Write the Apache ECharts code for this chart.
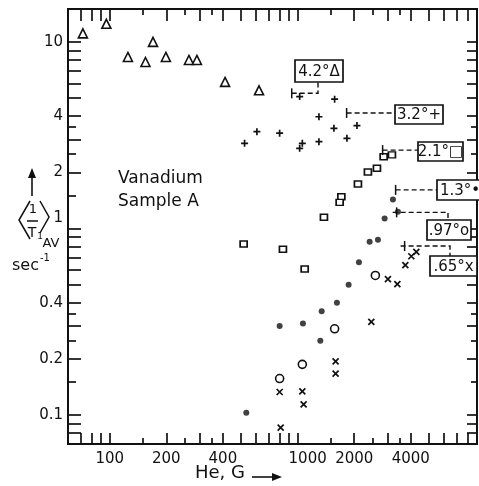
<!DOCTYPE html>
<html>
<head>
<meta charset="utf-8">
<script src="https://cdn.jsdelivr.net/npm/echarts@6/dist/echarts.min.js"></script>
<style>
html, body { margin: 0; padding: 0; background: #fff; }
#chart { width: 479px; height: 486px; }
</style>
</head>
<body>
<div id="chart"></div>
<script>
// He (G) against <1/T1>AV (sec^-1)
var tri42 = [[72, 11.1], [96, 12.5], [125, 8.3], [155, 7.8], [170, 10.0], [199, 8.3], [264, 8.0], [291, 8.0], [411, 6.1], [623, 5.5]];
var plus32 = [[522, 2.86], [607, 3.30], [802, 3.24], [1025, 2.69], [1059, 2.86], [1025, 5.09], [1298, 3.97], [1298, 2.92], [1573, 4.93], [1560, 3.44], [1829, 3.04], [2068, 3.56]];
var sq21 = [[516, 0.825], [835, 0.775], [1090, 0.606], [1380, 1.15], [1708, 1.48], [1673, 1.38], [2093, 1.73], [2365, 2.01], [2642, 2.10], [2868, 2.42], [3174, 2.48]];
var dot13 = [[3214, 1.43], [3416, 1.23], [2902, 1.13], [2415, 0.85], [2674, 0.87], [2119, 0.66], [1867, 0.50], [1618, 0.40], [1342, 0.36], [802, 0.30], [1067, 0.31], [1320, 0.25], [533, 0.103]];
var ring97 = [[2591, 0.56], [1573, 0.29], [1059, 0.187], [802, 0.157]];
var cross65 = [[3741, 0.637], [4025, 0.71], [4280, 0.75], [3022, 0.535], [3392, 0.503], [2466, 0.316], [1592, 0.194], [1592, 0.167], [1059, 0.134], [1076, 0.114], [802, 0.133], [812, 0.0857]];

// sample labels and the point each leader ends at
var tagNames = ['4.2°Δ', '3.2°+', '2.1°□', '1.3°•', '.97°o', '.65°x'];
var tagTips = [[930, 5.3], [1822, 4.16], [2832, 2.63], [3321, 1.61], [3363, 1.22], [3708, 0.805]];

var xTicks = [70, 80, 90, 100, 200, 300, 400, 500, 600, 700, 800, 900, 1000, 2000, 3000, 4000, 5000, 6000, 7000, 8000];
var xHalfTicks = [150, 250, 350, 1500, 2500, 3500];
var xLabels = [100, 200, 400, 1000, 2000, 4000];
var yTicks = [0.08, 0.09, 0.1, 0.2, 0.3, 0.4, 0.5, 0.6, 0.7, 0.8, 0.9, 1, 2, 3, 4, 5, 6, 7, 8, 9, 10];
var yHalfTicks = [0.15, 0.25, 0.35, 1.5, 2.5, 3.5];
var yLabels = [0.1, 0.2, 0.4, 1, 2, 4, 10];

// box placement for the labels (pixels)
var tagBoxes = [
    {x: 295, y: 60, w: 48, h: 22, elbow: 318, dir: 'up'},
    {x: 395, y: 105, w: 48, h: 19, dir: 'flat'},
    {x: 418, y: 142, w: 45, h: 19, dir: 'flat'},
    {x: 437, y: 180, w: 46, h: 20, dir: 'flat'},
    {x: 427, y: 220, w: 44, h: 20, elbow: 448, dir: 'down'},
    {x: 430, y: 256, w: 47, h: 20, elbow: 450, dir: 'down'}
];

var FONT = '"DejaVu Sans", sans-serif';
var INK = '#111';

function lg(list) {
    return list.map(function (v) { return Math.log10(v); });
}
function lgPts(list) {
    return list.map(function (p) { return [Math.log10(p[0]), Math.log10(p[1])]; });
}
function unlog(v) {
    return Number(Math.pow(10, v).toPrecision(3));
}

var chartDom = echarts.init(document.getElementById('chart'));

function makeAxis(pos, ticks, len, labels, extra) {
    var ax = {
        type: 'value',
        position: pos,
        axisLine: {show: true, onZero: false, lineStyle: {color: INK, width: 2}},
        axisTick: {show: true, inside: true, length: len, customValues: lg(ticks), lineStyle: {color: INK, width: 1.7}},
        splitLine: {show: false},
        axisLabel: {show: false}
    };
    if (labels) {
        ax.axisLabel = {
            show: true,
            customValues: lg(labels),
            color: INK,
            fontFamily: FONT,
            fontSize: 15,
            margin: pos === 'left' ? 5 : 8,
            formatter: function (v) {
                var n = unlog(v);
                if (n === 1000) return '{r|1000}';
                if (n === 1) return '{u|1}';
                return String(n);
            },
            rich: {
                r: {fontFamily: FONT, fontSize: 15, color: INK, padding: [0, 0, 0, 20]},
                u: {fontFamily: FONT, fontSize: 15, color: INK, padding: [0, 0, 20, 0]}
            }
        };
    }
    return Object.assign(ax, extra);
}

var xr = {min: Math.log10(60), max: Math.log10(9000)};
var yr = {min: Math.log10(0.07), max: Math.log10(15)};

function renderTag(params, api) {
    var i = params.dataIndex;
    var p = api.coord([api.value(0), api.value(1)]);
    var b = tagBoxes[i];
    var kids = [];
    var stroke = {stroke: INK, lineWidth: 1.5};
    kids.push({type: 'line', shape: {x1: p[0], y1: p[1] - 5, x2: p[0], y2: p[1] + 5}, style: stroke});
    var pts;
    if (b.dir === 'flat') {
        pts = [[p[0], p[1]], [b.x, p[1]]];
    } else if (b.dir === 'up') {
        pts = [[p[0], p[1]], [b.elbow, p[1]], [b.elbow, b.y + b.h]];
    } else {
        pts = [[p[0] - 4, p[1]], [b.elbow, p[1]], [b.elbow, b.y]];
    }
    kids.push({type: 'polyline', shape: {points: pts}, style: {stroke: INK, lineWidth: 1.4, lineDash: [5, 3], fill: null}});
    kids.push({type: 'rect', shape: {x: b.x, y: b.y, width: b.w, height: b.h}, style: {fill: '#fff', stroke: INK, lineWidth: 1.7}});
    kids.push({type: 'text', style: {text: tagNames[i], x: b.x + b.w / 2, y: b.y + b.h / 2 + 1, align: 'center', verticalAlign: 'middle', font: '15px ' + FONT, fill: INK}});
    return {type: 'group', children: kids};
}

function scatter(name, data, symbol, size, style) {
    return {
        name: name,
        type: 'scatter',
        xAxisIndex: 0,
        yAxisIndex: 0,
        data: lgPts(data),
        symbol: symbol,
        symbolSize: size,
        itemStyle: style,
        silent: true
    };
}

var openStyle = {color: '#fff', borderColor: INK, borderWidth: 1.6, opacity: 1};
var strokeStyle = {color: 'none', borderColor: INK, borderWidth: 1.7, opacity: 1};

chartDom.setOption({
    animation: false,
    backgroundColor: '#fff',
    grid: {left: 68, top: 9, width: 409, height: 435, containLabel: false},
    xAxis: [
        makeAxis('bottom', xTicks, 11, xLabels, xr),
        makeAxis('bottom', xHalfTicks, 6, null, xr),
        makeAxis('top', xTicks, 12, null, xr),
        makeAxis('top', xHalfTicks, 6, null, xr)
    ],
    yAxis: [
        makeAxis('left', yTicks, 13, yLabels, yr),
        makeAxis('left', yHalfTicks, 8, null, yr),
        makeAxis('right', yTicks, 10, null, yr),
        makeAxis('right', yHalfTicks, 6, null, yr)
    ],
    series: [
        scatter('4.2', tri42, 'triangle', 9, openStyle),
        scatter('3.2', plus32, 'path://M5,0L5,10M0,5L10,5', 7, strokeStyle),
        scatter('2.1', sq21, 'rect', [7, 6], openStyle),
        scatter('1.3', dot13, 'circle', 6, {color: INK}),
        scatter('.97', ring97, 'circle', 8, openStyle),
        scatter('.65', cross65, 'path://M0,0L10,10M10,0L0,10', 6, strokeStyle),
        {
            type: 'custom',
            xAxisIndex: 0,
            yAxisIndex: 0,
            clip: false,
            silent: true,
            data: lgPts(tagTips),
            renderItem: renderTag,
            z: 5
        }
    ],
    graphic: [
        {type: 'text', left: 118, top: 167, style: {text: 'Vanadium\nSample A', font: '17px ' + FONT, lineHeight: 23, fill: INK}},
        // y title
        {type: 'line', shape: {x1: 32, y1: 196, x2: 32, y2: 176}, style: {stroke: INK, lineWidth: 1.6}},
        {type: 'polygon', shape: {points: [[28, 178], [32, 168], [36, 178]]}, style: {fill: INK}},
        {type: 'polyline', shape: {points: [[30, 201], [19, 220], [30, 239]]}, style: {stroke: INK, lineWidth: 1.5, fill: null}},
        {type: 'polyline', shape: {points: [[40, 201], [49, 217], [40, 233]]}, style: {stroke: INK, lineWidth: 1.5, fill: null}},
        {type: 'text', x: 33, y: 210, style: {text: '1', font: '13px ' + FONT, fill: INK, align: 'center', verticalAlign: 'middle'}},
        {type: 'line', shape: {x1: 27, y1: 221, x2: 38, y2: 221}, style: {stroke: INK, lineWidth: 1.5}},
        {type: 'text', x: 32, y: 233, style: {text: 'T', font: '14px ' + FONT, fill: INK, align: 'center', verticalAlign: 'middle'}},
        {type: 'text', x: 40, y: 237, style: {text: '1', font: '9px ' + FONT, fill: INK, align: 'center', verticalAlign: 'middle'}},
        {type: 'text', x: 51, y: 244, style: {text: 'AV', font: '13px ' + FONT, fill: INK, align: 'center', verticalAlign: 'middle'}},
        {type: 'text', x: 12, y: 258, style: {text: 'sec', font: '16px ' + FONT, fill: INK}},
        {type: 'text', x: 40, y: 253, style: {text: '-1', font: '10px ' + FONT, fill: INK}},
        // x title
        {type: 'text', left: 195, top: 464, style: {text: 'He, G', font: '18px ' + FONT, fill: INK}},
        {type: 'line', shape: {x1: 252, y1: 477, x2: 274, y2: 477}, style: {stroke: INK, lineWidth: 1.6}},
        {type: 'polygon', shape: {points: [[272, 473], [282, 477], [272, 481]]}, style: {fill: INK}}
    ]
});
</script>
</body>
</html>
